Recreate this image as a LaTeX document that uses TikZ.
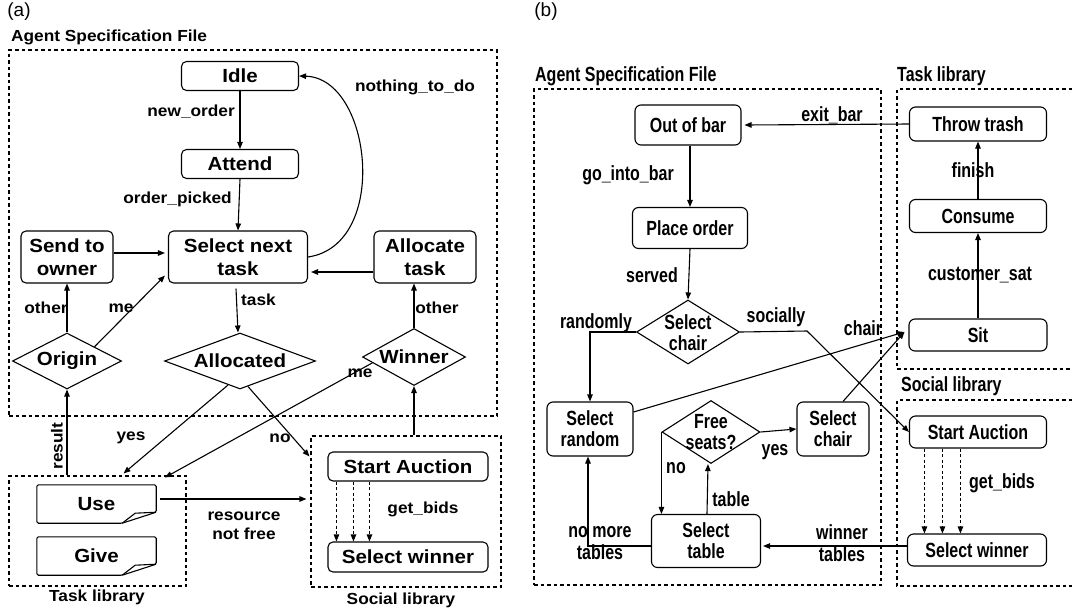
\documentclass[tikz,border=0pt]{standalone}
\usepackage{fontspec}
\setmainfont{Liberation Sans}
\newfontfamily\fontA[FakeStretch=1.08]{Liberation Sans}
\newfontfamily\fontB[FakeStretch=0.78]{Liberation Sans}
\usetikzlibrary{arrows.meta,calc,shapes.geometric}

\begin{document}
\begin{tikzpicture}[x=1pt,y=-1pt,
  every node/.style={inner sep=0pt},
  ln/.style={line width=1.1pt},
  arr/.style={ln,-{Triangle[length=7pt,width=5.5pt]}},
  darr/.style={arr,dash pattern=on 3pt off 2.5pt},
  frame/.style={dash pattern=on 3.5pt off 3pt,line width=1.1pt},
  boxa/.style={draw,ln,rounded corners=5pt,align=center,
    font=\fontA\bfseries\fontsize{19}{22.5}\selectfont},
  boxb/.style={draw,ln,rounded corners=6pt,align=center,
    font=\fontB\bfseries\fontsize{20.5}{21}\selectfont},
  txta/.style={align=center,font=\fontA\bfseries\fontsize{19}{22.5}\selectfont},
  txtb/.style={align=center,font=\fontB\bfseries\fontsize{20.5}{21}\selectfont},
  lbla/.style={align=center,font=\fontA\bfseries\fontsize{16}{19}\selectfont},
  lblb/.style={align=center,font=\fontB\bfseries\fontsize{20.5}{22}\selectfont},
  tag/.style={font=\fontsize{19}{20}\selectfont},
  dia/.style={draw,ln,diamond},
  docbox/.style={minimum width=119,minimum height=38,
    font=\fontA\bfseries\fontsize{19}{22.5}\selectfont}
]
\useasboundingbox (0,0) rectangle (1072,614);

% ---------------- (a) ----------------
\node[tag] (taga) at (19,12) {(a)};
\node[lbla,anchor=west] (asfa-t) at (11,37) {Agent Specification File};

% containers
\node[draw,frame,minimum width=488,minimum height=366] (asfa) at (253,233) {};
\node[draw,frame,minimum width=177,minimum height=110] (tasklib) at (97.5,531) {};
\node[draw,frame,minimum width=190,minimum height=151] (soclib) at (406,511.5) {};
\node[lbla] (tasklib-t) at (97,597) {Task library};
\node[lbla] (soclib-t) at (401,600) {Social library};

% states
\node[boxa,minimum width=117,minimum height=29] (idle) at (240,76) {Idle};
\node[boxa,minimum width=117,minimum height=29] (attend) at (240,164) {Attend};
\node[boxa,minimum width=139,minimum height=52] (snt) at (238,257) {Select next\\task};
\node[boxa,minimum width=92,minimum height=52] (sto) at (67,257) {Send to\\owner};
\node[boxa,minimum width=102,minimum height=52] (alloc) at (425,257) {Allocate\\task};

% decisions
\node[dia,minimum width=109,minimum height=56] (origin) at (67,361) {};
\node[txta] (origin-t) at (67,361) {Origin};
\node[dia,minimum width=151,minimum height=56] (allocd) at (240,361) {};
\node[txta] (allocd-t) at (240,361) {Allocated};
\node[dia,minimum width=103,minimum height=57] (winner) at (414,357) {};
\node[txta] (winner-t) at (414,357) {Winner};

% task documents
\node[docbox] (use) at (96.5,504) {Use};
\node[docbox] (give) at (96.5,556) {Give};
\foreach \d in {use,give}{
  \draw[ln,rounded corners=1.5pt] (\d.north west) -- (\d.north east)
    -- ($(\d.south east)+(0,-11)$) -- ($(\d.south east)+(-34,0)$)
    -- (\d.south west) -- cycle;
  \draw[ln] ($(\d.south east)+(-34,0)$) -- ($(\d.south east)+(-21,-10)$)
    -- ($(\d.south east)+(0,-11)$);
}

% auction
\node[boxa,minimum width=160,minimum height=29] (sa) at (408,466.5) {Start Auction};
\node[boxa,minimum width=160,minimum height=30] (sw) at (408,557) {Select winner};

% transitions
\draw[arr] (idle.south) -- (attend.north);
\node[lbla,anchor=east] (l-new) at (235,112) {new\_order};
\draw[arr] (attend.south) -- (snt.north);
\node[lbla,anchor=east] (l-op) at (232,199) {order\_picked};
\draw[arr] (snt.east) .. controls (390,245) and (372,78) .. (idle.east);
\node[lbla] (l-ntd) at (415,87) {nothing\_to\_do};
\draw[arr] ($(sto.east)+(0,-4)$) -- ($(snt.west)+(-3,-4)$);
\draw[arr] ($(alloc.west)+(0,15)$) -- ($(snt.east)+(3,15)$);
\draw[arr] ($(snt.south)+(-2,5)$) -- ($(allocd.north)+(-2,0)$);
\node[lbla,anchor=west] (l-task) at (241,300) {task};
\draw[arr] (origin.north) -- (sto.south);
\node[lbla] (l-oth1) at (46,308) {other};
\draw[arr] (origin.north east) -- ($(snt.south west)+(-3,-8)$);
\node[lbla] (l-me1) at (121,308) {me};
\draw[arr] (winner.north) -- (winner.north |- alloc.south);
\node[lbla] (l-oth2) at (437,308) {other};
\draw[arr] (origin.south |- tasklib.north) -- (origin.south);
\node[lbla,rotate=90] (l-res) at (57,446) {result};
\draw[arr] ($(allocd.south)+(-12,-4.5)$) -- ($(tasklib.north)+(26,-2)$);
\node[lbla] (l-yes) at (131,438) {yes};
\draw[arr] ($(allocd.south)+(8,-3)$) -- ($(soclib.north west)+(-1,21)$);
\node[lbla] (l-no) at (280,438) {no};
\draw[arr] (winner.188) -- ($(tasklib.north)+(67.5,2)$);
\node[lbla] (l-me2) at (360,373) {me};
\draw[arr] (winner.south |- soclib.north) -- (winner.south);
\coordinate (rs) at ($(use.east)+(4,-5)$);
\draw[arr] (rs) -- ($(rs -| soclib.west)+(-4,0)$);
\node[lbla] (l-rnf) at (244,526) {resource\\not free};
\foreach \o in {9,26,42}{
  \draw[darr] ($(sa.south west)+(\o,0)$) -- ($(sw.north west)+(\o,0)$);
}
\node[lbla] (l-gb1) at (423,509) {get\_bids};

% ---------------- (b) ----------------
\node[tag] (tagb) at (546,12) {(b)};
\node[lblb,anchor=west] (asfb-t) at (535,76) {Agent Specification File};
\node[lblb,anchor=west] (tlb-t) at (897,76) {Task library};
\node[lblb,anchor=west] (slb-t) at (901,386) {Social library};

% containers
\node[draw,frame,minimum width=347,minimum height=496] (asfb) at (707.5,337) {};
\draw[frame] (1072,89) -- (897,89) -- (897,369) -- (1072,369);
\draw[frame] (1072,400) -- (897,400) -- (897,586) -- (1072,586);

% states
\node[boxb,minimum width=106,minimum height=40] (oob) at (688,125) {Out of bar};
\node[boxb,minimum width=115,minimum height=41] (po) at (690,228) {Place order};
\node[dia,minimum width=103,minimum height=64] (schair) at (688,332) {};
\node[txtb] (schair-t) at (688,333) {Select\\chair};
\node[boxb,minimum width=86,minimum height=54] (srand) at (590,429) {Select\\random};
\node[boxb,minimum width=72,minimum height=54] (schairb) at (833,429) {Select\\chair};
\node[dia,minimum width=98,minimum height=63] (free) at (711,432) {};
\node[txtb] (free-t) at (711,432.5) {Free\\seats?};
\node[boxb,minimum width=109,minimum height=53] (stable) at (706,541) {Select\\table};

\node[boxb,minimum width=137,minimum height=34] (tt) at (978,124) {Throw trash};
\node[boxb,minimum width=137,minimum height=33] (consume) at (978,216) {Consume};
\node[boxb,minimum width=138,minimum height=32] (sit) at (978,335) {Sit};
\node[boxb,minimum width=137,minimum height=32] (sa2) at (978,432) {Start Auction};
\node[boxb,minimum width=139,minimum height=32] (sw2) at (977,550) {Select winner};

% transitions
\draw[arr] (tt.west) -- ($(oob.east)+(3,0)$);
\node[lblb] (l-exit) at (832,115) {exit\_bar};
\draw[arr] ($(oob.south)+(2,0)$) -- ($(po.north)+(0,0)$);
\node[lblb] (l-go) at (628,175) {go\_into\_bar};
\draw[arr] (po.south) -- (schair.north);
\node[lblb] (l-served) at (652,275) {served};
\draw[arr] (schair.west) -| (srand.north);
\node[lblb] (l-rand) at (596,323) {randomly};
\draw[arr] (schair.east) -- (807,331) -- (sa2.west);
\node[lblb] (l-soc) at (776,317) {socially};
\draw[arr] ($(srand.east)+(0,-17)$) -- ($(sit.west)+(-4,-3)$);
\draw[arr] ($(schairb.north)+(10,0)$) -- ($(sit.west)+(-4,-3)$);
\node[lblb] (l-chair) at (863,328) {chair};
\draw[arr] (free.east) -- (schairb.west);
\node[lblb] (l-yes2) at (775,452) {yes};
\draw[arr] (free.west) -- (free.west |- stable.north);
\node[lblb] (l-no2) at (676,468) {no};
\draw[arr] ($(stable.north)+(1,0)$) -- ($(free.south)+(-3,0)$);
\node[lblb] (l-table) at (731,499) {table};
\draw[arr] ($(stable.west)+(0,5)$) -| ($(srand.south)+(-2,0)$);
\node[lblb] (l-nmt) at (600,543) {no more\\tables};
\coordinate (wt) at ($(sw2.west)+(0,-4)$);
\draw[arr] (wt) -- ($(wt -| stable.east)+(2,0)$);
\node[lblb] (l-wt) at (842,543) {winner\\tables};
\draw[arr] (sit.north) -- (consume.south);
\node[lblb] (l-cs) at (980,275) {customer\_sat};
\draw[arr] (consume.north) -- (tt.south);
\node[lblb] (l-fin) at (973,170) {finish};
\foreach \o [count=\i] in {15.5,33.5,51.5}{
  \coordinate (dd\i) at ($(sa2.south west)+(\o,0)$);
  \draw[darr] (dd\i) -- (dd\i |- sw2.north);
}
\node[lblb] (l-gb2) at (1002,483) {get\_bids};
\end{tikzpicture}
\end{document}
